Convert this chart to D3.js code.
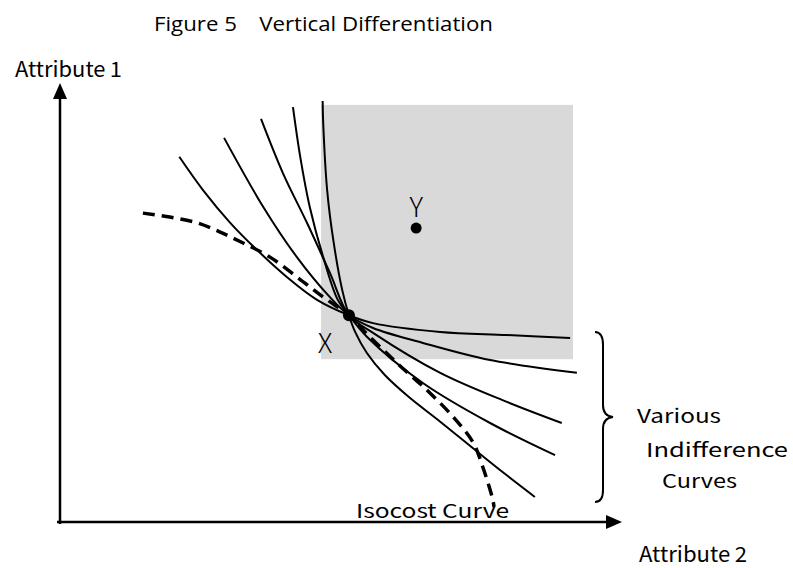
<!DOCTYPE html>
<html>
<head>
<meta charset="utf-8">
<script src="https://cdn.jsdelivr.net/npm/d3@7"></script>
<style>
  html, body { margin: 0; padding: 0; background: #fff; }
  svg { display: block; }
</style>
</head>
<body>
<svg id="chart" width="793" height="568"></svg>
<script>
// ---- Data (attribute units, 0-100) ----
const title = "Figure 5\u2002\u2002Vertical Differentiation";
const axisLabels = ["Attribute\u20091", "Attribute\u20092"];
const braceLabel = ["Various", "Indifference", "Curves"];
const isocostLabel = "Isocost Curve";
const pointX = [51.6, 47.0];
const pointY = [63.6, 66.8];
const shadedRegion = { x0: 46.6, x1: 91.6, y0: 37.0, y1: 94.8 };

const indiff1 = [[21.3,83.0],[25.5,75.5],[30.4,68.0],[35.2,61.8],[40.5,55.7],[45.9,50.5],[51.6,47.0],[55.9,45.2],[67.9,43.2],[79.8,42.5],[91.1,41.8]];
const indiff2 = [[29.3,87.3],[36.3,71.6],[42.3,60.2],[48.2,51.1],[51.6,47.0],[55.9,44.1],[64.8,40.7],[76.8,36.8],[92.3,33.9]];
const indiff3 = [[35.9,91.6],[39.8,79.3],[44.1,68.0],[48.2,56.6],[51.6,47.0],[55.9,43.0],[67.9,33.9],[79.8,27.3],[89.6,22.5]];
const indiff4 = [[41.6,94.3],[42.9,83.0],[44.6,71.6],[47.0,60.2],[49.6,50.5],[51.6,47.0],[54.8,42.1],[64.8,31.6],[76.8,22.5],[88.4,15.2]];
const indiff5 = [[46.9,95.7],[47.0,90.7],[47.7,75.5],[48.8,64.1],[50.4,52.7],[51.6,47.0],[52.7,43.2],[54.8,38.4],[58.0,33.4],[62.3,28.4],[67.9,22.8],[74.1,16.4],[79.5,10.9],[84.8,5.7]];
const isocost = [[14.8,70.2],[19.6,69.3],[24.5,68.0],[28.6,65.9],[32.7,63.4],[37.5,60.2],[42.3,55.7],[47.0,51.1],[51.6,47.0],[53.6,44.3],[60.2,36.1],[65.5,30.0],[70.2,23.9],[73.8,18.0],[75.5,12.5],[77.3,5.0],[77.5,3.4]];
const indifferenceCurves = [indiff1, indiff2, indiff3, indiff4, indiff5];

// ---- Scales ----
const svg = d3.select("#chart");
const x = d3.scaleLinear().domain([0, 100]).range([60, 620]);
const y = d3.scaleLinear().domain([0, 100]).range([522, 82]);
const line = d3.line().x(d => x(d[0])).y(d => y(d[1])).curve(d3.curveCatmullRom.alpha(0.5));

const labelFont = "'Noto Sans CJK JP', 'DejaVu Sans', sans-serif";

function label(txt, x0, yb, size, len) {
  const t = svg.append("text").attr("x", x0).attr("y", yb)
    .attr("font-family", labelFont).attr("font-size", size).attr("font-weight", 400)
    .attr("fill", "#000").text(txt);
  if (len) t.attr("textLength", len).attr("lengthAdjust", "spacingAndGlyphs");
  return t;
}

// Title
svg.append("text").attr("x", 154).attr("y", 31)
  .attr("font-family", "'Open Sans', sans-serif").attr("font-size", 20)
  .attr("textLength", 339).attr("lengthAdjust", "spacingAndGlyphs")
  .attr("fill", "#000").text(title);

// Shaded region
svg.append("rect")
  .attr("x", x(shadedRegion.x0)).attr("y", y(shadedRegion.y1))
  .attr("width", x(shadedRegion.x1) - x(shadedRegion.x0))
  .attr("height", y(shadedRegion.y0) - y(shadedRegion.y1))
  .attr("fill", "#d9d9d9");

// Axes with arrows
svg.append("line").attr("x1", x(0)).attr("y1", y(0) + 2).attr("x2", x(0)).attr("y2", y(100) + 14)
  .attr("stroke", "#000").attr("stroke-width", 2.5);
svg.append("path")
  .attr("d", `M${x(0)},${y(100)+1} L${x(0)-7},${y(100)+17} L${x(0)+7},${y(100)+17} Z`)
  .attr("fill", "#000");
svg.append("line").attr("x1", x(0) - 3).attr("y1", y(0)).attr("x2", x(100) - 12).attr("y2", y(0))
  .attr("stroke", "#000").attr("stroke-width", 2.5);
svg.append("path")
  .attr("d", `M${x(100)+2},${y(0)} L${x(100)-14},${y(0)-7} L${x(100)-14},${y(0)+7} Z`)
  .attr("fill", "#000");

// Axis labels
label(axisLabels[0], 15, 77, 21, 107);
label(axisLabels[1], 639, 562, 21, 108);

// Indifference curves
svg.selectAll("path.indiff").data(indifferenceCurves).join("path")
  .attr("class", "indiff").attr("d", line)
  .attr("fill", "none").attr("stroke", "#000").attr("stroke-width", 2);

// Isocost curve (dashed)
svg.append("path").attr("d", line(isocost))
  .attr("fill", "none").attr("stroke", "#000").attr("stroke-width", 3.5)
  .attr("stroke-dasharray", "12,7");

// Points
svg.append("circle").attr("cx", x(pointX[0])).attr("cy", y(pointX[1])).attr("r", 6).attr("fill", "#000");
svg.append("circle").attr("cx", x(pointY[0])).attr("cy", y(pointY[1])).attr("r", 5.5).attr("fill", "#000");
svg.append("text").attr("x", x(pointX[0]) - 24).attr("y", y(pointX[1]) + 38)
  .attr("text-anchor", "middle").attr("font-family", labelFont).attr("font-weight", 300)
  .attr("font-size", 27).attr("fill", "#000").text("X");
svg.append("text").attr("x", x(pointY[0])).attr("y", y(pointY[1]) - 11)
  .attr("text-anchor", "middle").attr("font-family", labelFont).attr("font-weight", 300)
  .attr("font-size", 27).attr("fill", "#000").text("Y");

// Brace
svg.append("path")
  .attr("d", "M595,332 Q603,332 603,345 L603,405 Q603,416 613,417 Q603,418 603,429 L603,490 Q603,502 595,502")
  .attr("fill", "none").attr("stroke", "#000").attr("stroke-width", 2);

// Brace label
label(braceLabel[0], 637, 423, 19, 84);
label(braceLabel[1], 646, 457, 19, 142);
label(braceLabel[2], 662, 488, 19, 75);

// Isocost label
label(isocostLabel, 356, 518, 19, 153);
</script>
</body>
</html>
